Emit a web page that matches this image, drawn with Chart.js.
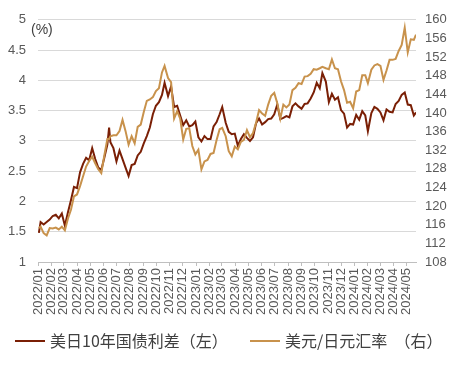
<!DOCTYPE html>
<html>
<head>
<meta charset="utf-8">
<script src="https://cdn.jsdelivr.net/npm/chart.js@4.4.1/dist/chart.umd.min.js"></script>
<style>
  html, body { margin: 0; padding: 0; background: #fff; }
</style>
</head>
<body>
<canvas id="chart" width="458" height="366"></canvas>
<script>
// x 轴月份
const monthLabels = ['2022/01','2022/02','2022/03','2022/04','2022/05','2022/06','2022/07','2022/08','2022/09','2022/10','2022/11','2022/12',
  '2023/01','2023/02','2023/03','2023/04','2023/05','2023/06','2023/07','2023/08','2023/09','2023/10','2023/11','2023/12',
  '2024/01','2024/02','2024/03','2024/04','2024/05'];

const dates = [
  '2022-01-03','2022-01-07','2022-01-14','2022-01-21','2022-01-28','2022-02-04','2022-02-11','2022-02-18','2022-02-25',
  '2022-03-04','2022-03-11','2022-03-18','2022-03-25','2022-04-01','2022-04-08','2022-04-15','2022-04-22','2022-04-29',
  '2022-05-06','2022-05-13','2022-05-20','2022-05-27','2022-06-03','2022-06-10','2022-06-14','2022-06-17','2022-06-24',
  '2022-07-01','2022-07-08','2022-07-15','2022-07-22','2022-07-29','2022-08-05','2022-08-12','2022-08-19','2022-08-26',
  '2022-09-02','2022-09-09','2022-09-16','2022-09-23','2022-09-30','2022-10-07','2022-10-14','2022-10-20','2022-10-28',
  '2022-11-04','2022-11-11','2022-11-18','2022-11-25','2022-12-02','2022-12-09','2022-12-16','2022-12-23','2022-12-30',
  '2023-01-06','2023-01-13','2023-01-20','2023-01-27','2023-02-03','2023-02-10','2023-02-17','2023-02-24','2023-03-02',
  '2023-03-10','2023-03-17','2023-03-24','2023-03-31','2023-04-07','2023-04-14','2023-04-21','2023-04-28','2023-05-05',
  '2023-05-12','2023-05-19','2023-05-26','2023-06-02','2023-06-09','2023-06-16','2023-06-23','2023-06-30','2023-07-07',
  '2023-07-14','2023-07-21','2023-07-28','2023-08-04','2023-08-11','2023-08-18','2023-08-25','2023-09-01','2023-09-08',
  '2023-09-15','2023-09-22','2023-09-29','2023-10-06','2023-10-13','2023-10-19','2023-10-27','2023-11-03','2023-11-10',
  '2023-11-17','2023-11-24','2023-12-01','2023-12-08','2023-12-15','2023-12-22','2023-12-29',
  '2024-01-05','2024-01-12','2024-01-19','2024-01-26','2024-02-01','2024-02-09','2024-02-16','2024-02-23','2024-03-01',
  '2024-03-08','2024-03-15','2024-03-22','2024-03-29','2024-04-05','2024-04-12','2024-04-19','2024-04-26','2024-05-03',
  '2024-05-10','2024-05-17','2024-05-22'
];

// 美日10年国债利差（%）
const spread = [
  1.48,1.66,1.62,1.66,1.70,1.76,1.78,1.72,1.80,
  1.60,1.82,2.02,2.24,2.22,2.48,2.62,2.72,2.68,
  2.88,2.70,2.56,2.52,2.72,2.94,3.22,2.98,2.88,
  2.66,2.84,2.70,2.56,2.42,2.60,2.62,2.76,2.82,
  2.96,3.08,3.22,3.44,3.58,3.64,3.76,3.96,3.74,
  3.90,3.56,3.58,3.42,3.26,3.34,3.24,3.26,3.32,
  3.06,2.99,3.08,3.03,3.03,3.24,3.31,3.44,3.56,
  3.30,3.15,3.11,3.12,2.92,3.03,3.11,3.05,3.00,
  3.06,3.29,3.37,3.27,3.31,3.36,3.37,3.44,3.60,
  3.36,3.38,3.41,3.39,3.57,3.62,3.57,3.53,3.61,
  3.62,3.70,3.80,3.96,3.87,4.12,3.98,3.64,3.78,
  3.68,3.72,3.51,3.45,3.22,3.28,3.27,
  3.43,3.35,3.49,3.42,3.16,3.46,3.56,3.53,3.47,
  3.34,3.52,3.48,3.47,3.61,3.66,3.76,3.80,3.60,
  3.59,3.42,3.47
];

// 美元/日元汇率
const usdJpy = [
  115.3,115.6,114.2,113.7,115.3,115.2,115.4,115.0,115.6,
  114.8,117.3,119.2,122.1,122.5,124.3,126.4,128.5,129.7,
  130.6,129.2,127.9,127.1,130.9,134.4,134.4,135.0,135.2,
  135.2,136.1,138.5,136.1,133.2,135.0,133.5,137.0,137.5,
  140.2,142.6,142.9,143.4,144.7,145.3,148.7,150.1,147.5,
  146.6,138.8,140.4,138.8,134.3,136.6,136.7,132.9,131.1,
  132.1,127.9,129.6,129.9,131.2,131.4,134.2,136.5,136.8,
  135.0,131.8,130.7,132.8,132.2,133.8,134.2,136.3,134.8,
  135.7,137.9,140.6,139.9,139.4,141.8,143.7,144.3,142.1,
  138.8,141.8,141.2,141.8,144.9,145.4,146.4,146.2,147.8,
  147.9,148.4,149.4,149.3,149.6,149.9,149.6,149.4,151.5,
  149.6,149.4,146.8,144.9,142.2,142.4,141.0,
  144.6,144.9,148.1,148.1,146.4,149.3,150.2,150.5,150.1,
  147.1,149.1,151.4,151.4,151.6,153.3,154.6,158.3,153.0,
  155.8,155.7,156.8
];

function dayIndex(s) {
  const p = s.split(/[-\/]/).map(Number);
  return (Date.UTC(p[0], p[1] - 1, p[2] || 1) - Date.UTC(2022, 0, 1)) / 86400000;
}

const tickColor = '#595959';
const tickFont = { family: 'Liberation Sans, Arial, sans-serif', size: 13 };

// (%) 单位 + 底部图例（单行）
const extras = {
  id: 'extras',
  afterDraw(chart) {
    const ctx = chart.ctx;
    ctx.save();
    ctx.font = '14px "Liberation Sans", Arial, sans-serif';
    ctx.fillStyle = '#404040';
    ctx.textAlign = 'left';
    ctx.textBaseline = 'middle';
    ctx.fillText('(%)', chart.chartArea.left - 7, chart.chartArea.top + 10);

    ctx.font = '16px "Noto Sans CJK SC"';
    const starts = [15, 250];
    chart.data.datasets.forEach((ds, i) => {
      const x0 = starts[i], y0 = 341;
      ctx.strokeStyle = ds.borderColor;
      ctx.lineWidth = 2;
      ctx.beginPath();
      ctx.moveTo(x0, y0);
      ctx.lineTo(x0 + 30, y0);
      ctx.stroke();
      ctx.fillStyle = '#404040';
      ctx.fillText(ds.label, x0 + 35, y0);
    });
    ctx.restore();
  }
};

new Chart(document.getElementById('chart'), {
  type: 'line',
  data: {
    datasets: [{
      label: '美日10年国债利差（左）',
      data: dates.map((d, i) => ({ x: dayIndex(d), y: spread[i] })),
      borderColor: '#7a1f05',
      backgroundColor: '#7a1f05',
      borderWidth: 2,
      pointRadius: 0,
      yAxisID: 'y',
      order: 1
    }, {
      label: '美元/日元汇率  （右）',
      data: dates.map((d, i) => ({ x: dayIndex(d), y: usdJpy[i] })),
      borderColor: '#c8924c',
      backgroundColor: '#c8924c',
      borderWidth: 2,
      pointRadius: 0,
      yAxisID: 'y2',
      order: 0
    }]
  },
  options: {
    responsive: false,
    animation: false,
    layout: { padding: { top: 10, left: 0, right: 0, bottom: 46 } },
    plugins: {
      tooltip: { enabled: false },
      legend: { display: false }
    },
    scales: {
      x: {
        type: 'linear',
        min: 0,
        max: dayIndex('2024-05-22'),
        afterBuildTicks: s => { s.ticks = monthLabels.map(l => ({ value: dayIndex(l) })); },
        afterFit: s => { s.height = 58; },
        ticks: {
          autoSkip: false,
          maxRotation: 90,
          minRotation: 90,
          color: tickColor,
          font: tickFont,
          padding: 2,
          callback: (v, i) => monthLabels[i]
        },
        grid: { drawOnChartArea: false, drawTicks: true, tickLength: 4, color: '#bfbfbf' },
        border: { color: '#bfbfbf' }
      },
      y: {
        position: 'left',
        min: 1,
        max: 5,
        ticks: { stepSize: 0.5, color: tickColor, font: tickFont, padding: 12, callback: v => String(+v.toFixed(1)) },
        grid: { color: '#d9d9d9', drawTicks: false },
        border: { display: false },
        afterFit: s => { s.width = 38; }
      },
      y2: {
        position: 'right',
        min: 108,
        max: 160,
        ticks: { stepSize: 4, autoSkip: false, color: tickColor, font: tickFont, padding: 9, callback: v => String(v) },
        grid: { display: false, drawTicks: false },
        border: { display: false },
        afterFit: s => { s.width = 42; }
      }
    }
  },
  plugins: [extras]
});
</script>
</body>
</html>
